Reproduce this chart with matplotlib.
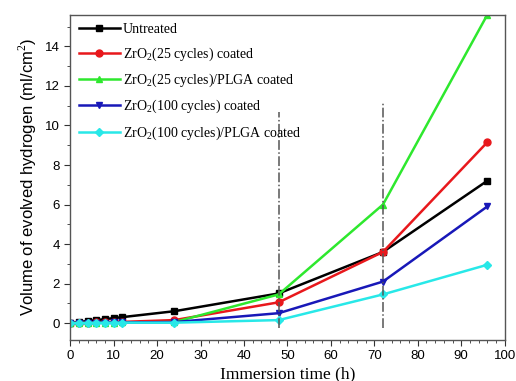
import numpy as np
import matplotlib.pyplot as plt
from matplotlib.ticker import MultipleLocator

# immersion times (h)
time_h = [0, 2, 4, 6, 8, 10, 12, 24, 48, 72, 96]

untreated = [0.0, 0.05, 0.1, 0.15, 0.2, 0.25, 0.3, 0.6, 1.5, 3.6, 7.2]
zro2_25 = [0.0, 0.01, 0.02, 0.03, 0.04, 0.05, 0.06, 0.15, 1.05, 3.6, 9.15]
zro2_25_plga = [0.0, 0.0, 0.01, 0.01, 0.02, 0.02, 0.03, 0.05, 1.45, 6.0, 15.6]
zro2_100 = [0.0, 0.01, 0.01, 0.02, 0.02, 0.03, 0.03, 0.05, 0.5, 2.1, 5.9]
zro2_100_plga = [0.0, 0.0, 0.0, 0.01, 0.01, 0.01, 0.02, 0.02, 0.15, 1.45, 2.95]

labels = ['Untreated',
          r'ZrO$_2$(25 cycles) coated',
          r'ZrO$_2$(25 cycles)/PLGA coated',
          r'ZrO$_2$(100 cycles) coated',
          r'ZrO$_2$(100 cycles)/PLGA coated']
colors = ['black', '#e8181c', '#2ee82e', '#1818b8', '#28e8e8']
markers = ['s', 'o', '^', 'v', 'D']

# dash-dot guide lines: (x, top)
guides = [(48, 10.7), (72, 11.2)]

plt.rcParams['font.family'] = ['Liberation Sans', 'DejaVu Sans']
plt.rcParams['mathtext.fontset'] = 'custom'
plt.rcParams['mathtext.rm'] = 'Liberation Serif'

fig = plt.figure(figsize=(5.16, 3.81), dpi=100)
ax = fig.add_axes([0.136, 0.108, 0.842, 0.853])

series = [untreated, zro2_25, zro2_25_plga, zro2_100, zro2_100_plga]
for y, lab, c, m in zip(series, labels, colors, markers):
    ax.plot(time_h, y, color=c, marker=m, markersize=5 if m != 'D' else 4,
            linewidth=1.8, label=lab)

for gx, top in guides:
    ax.plot([gx, gx], [-0.25, top], color='#555555', linestyle='-.', linewidth=1.1)

ax.set_xlim(0, 100)
ax.set_ylim(-0.85, 15.6)
ax.xaxis.set_major_locator(MultipleLocator(10))
ax.xaxis.set_minor_locator(MultipleLocator(2))
ax.yaxis.set_major_locator(MultipleLocator(2))
ax.yaxis.set_minor_locator(MultipleLocator(1))
ax.tick_params(which='major', direction='out', length=4, labelsize=9.5, color='#333333')
ax.tick_params(which='minor', direction='out', length=2, color='#333333')
for sp in ax.spines.values():
    sp.set_color('#555555')
    sp.set_linewidth(1.0)

ax.set_xlabel('Immersion time (h)', family='Liberation Serif', fontsize=12.5, labelpad=3)
ax.set_ylabel('Volume of evolved hydrogen (ml/cm$^2$)', fontsize=12, labelpad=4)

leg = ax.legend(loc='upper left', frameon=False, prop={'family': 'Liberation Serif', 'size': 10},
                handlelength=3.0, borderaxespad=0.2, labelspacing=0.65, handletextpad=0.2)

fig.savefig('out.png', dpi=100)
